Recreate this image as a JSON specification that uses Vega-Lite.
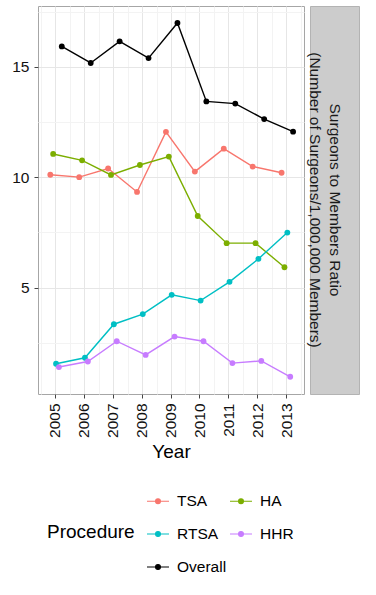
{
  "$schema": "https://vega.github.io/schema/vega-lite/v6.json",
  "padding": {"left": 11, "top": 5, "right": 0, "bottom": 0},
  "background": "white",
  "spacing": 0,
  "config": {
    "font": "Liberation Sans",
    "view": {"stroke": null},
    "concat": {"spacing": 0}
  },
  "datasets": {
    "ratios": [
      {"Year": "2005", "Procedure": "TSA", "Ratio": 10.11},
      {"Year": "2006", "Procedure": "TSA", "Ratio": 10.0},
      {"Year": "2007", "Procedure": "TSA", "Ratio": 10.39},
      {"Year": "2008", "Procedure": "TSA", "Ratio": 9.33},
      {"Year": "2009", "Procedure": "TSA", "Ratio": 12.05},
      {"Year": "2010", "Procedure": "TSA", "Ratio": 10.25},
      {"Year": "2011", "Procedure": "TSA", "Ratio": 11.29},
      {"Year": "2012", "Procedure": "TSA", "Ratio": 10.48},
      {"Year": "2013", "Procedure": "TSA", "Ratio": 10.2},
      {"Year": "2005", "Procedure": "HA", "Ratio": 11.05},
      {"Year": "2006", "Procedure": "HA", "Ratio": 10.76},
      {"Year": "2007", "Procedure": "HA", "Ratio": 10.1},
      {"Year": "2008", "Procedure": "HA", "Ratio": 10.55},
      {"Year": "2009", "Procedure": "HA", "Ratio": 10.93},
      {"Year": "2010", "Procedure": "HA", "Ratio": 8.24},
      {"Year": "2011", "Procedure": "HA", "Ratio": 7.01},
      {"Year": "2012", "Procedure": "HA", "Ratio": 7.01},
      {"Year": "2013", "Procedure": "HA", "Ratio": 5.92},
      {"Year": "2005", "Procedure": "RTSA", "Ratio": 1.55},
      {"Year": "2006", "Procedure": "RTSA", "Ratio": 1.82},
      {"Year": "2007", "Procedure": "RTSA", "Ratio": 3.34},
      {"Year": "2008", "Procedure": "RTSA", "Ratio": 3.8},
      {"Year": "2009", "Procedure": "RTSA", "Ratio": 4.67},
      {"Year": "2010", "Procedure": "RTSA", "Ratio": 4.41},
      {"Year": "2011", "Procedure": "RTSA", "Ratio": 5.26},
      {"Year": "2012", "Procedure": "RTSA", "Ratio": 6.3},
      {"Year": "2013", "Procedure": "RTSA", "Ratio": 7.49},
      {"Year": "2005", "Procedure": "HHR", "Ratio": 1.4},
      {"Year": "2006", "Procedure": "HHR", "Ratio": 1.65},
      {"Year": "2007", "Procedure": "HHR", "Ratio": 2.57},
      {"Year": "2008", "Procedure": "HHR", "Ratio": 1.95},
      {"Year": "2009", "Procedure": "HHR", "Ratio": 2.78},
      {"Year": "2010", "Procedure": "HHR", "Ratio": 2.57},
      {"Year": "2011", "Procedure": "HHR", "Ratio": 1.58},
      {"Year": "2012", "Procedure": "HHR", "Ratio": 1.68},
      {"Year": "2013", "Procedure": "HHR", "Ratio": 0.96},
      {"Year": "2005", "Procedure": "Overall", "Ratio": 15.92},
      {"Year": "2006", "Procedure": "Overall", "Ratio": 15.17},
      {"Year": "2007", "Procedure": "Overall", "Ratio": 16.15},
      {"Year": "2008", "Procedure": "Overall", "Ratio": 15.39},
      {"Year": "2009", "Procedure": "Overall", "Ratio": 16.98},
      {"Year": "2010", "Procedure": "Overall", "Ratio": 13.43},
      {"Year": "2011", "Procedure": "Overall", "Ratio": 13.33},
      {"Year": "2012", "Procedure": "Overall", "Ratio": 12.63},
      {"Year": "2013", "Procedure": "Overall", "Ratio": 12.06}
    ],
    "strip": [
      {"label": "Surgeons to Members Ratio\n(Number of Surgeons/1,000,000 Members)"}
    ]
  },
  "hconcat": [
    {
      "width": 266,
      "height": 388,
      "data": {"name": "ratios"},
      "view": {"stroke": "#A6A6A6", "strokeWidth": 1, "fill": "white"},
      "layer": [
        {
          "mark": {"type": "point", "opacity": 0},
          "encoding": {
            "x": {
              "field": "Year", "type": "ordinal",
              "scale": {"type": "band", "paddingInner": 0, "paddingOuter": 0.1},
              "axis": {"orient": "bottom", "labels": false, "ticks": false, "domain": false, "title": null,
                       "grid": true, "tickBand": "extent", "gridColor": "#F3F3F3", "gridWidth": 1,
                       "minExtent": 0, "maxExtent": 0, "offset": 0}
            }
          }
        },
        {
          "encoding": {
            "x": {
              "field": "Year", "type": "ordinal",
              "axis": {"orient": "bottom", "title": "Year", "labelAngle": 270, "labelAlign": "right",
                       "labelBaseline": "middle", "labelFontSize": 15.5, "labelColor": "#111111",
                       "labelPadding": 5, "tickSize": 4, "tickColor": "#444444", "domain": false,
                       "grid": true, "gridColor": "#E6E6E6", "titleFontSize": 19, "titleFontWeight": "normal",
                       "titleColor": "#000000", "titlePadding": 5}
            },
            "xOffset": {
              "field": "Procedure", "type": "nominal",
              "scale": {"domain": ["TSA", "HA", "RTSA", "HHR", "Overall"], "range": [9.4, 20.9],
                        "paddingInner": 0, "paddingOuter": 0}
            },
            "y": {
              "field": "Ratio", "type": "quantitative",
              "scale": {"domain": [0.18, 17.75], "nice": false, "zero": false},
              "axis": {"orient": "left", "values": [2.5, 5, 7.5, 10, 12.5, 15, 17.5], "title": null,
                       "labelExpr": "datum.value % 5 === 0 ? datum.label : ''",
                       "labelFontSize": 15.5, "labelColor": "#111111", "tickSize": 4,
                       "tickColor": "#444444",
                       "tickOpacity": {"condition": {"test": "datum.value % 5 === 0", "value": 1}, "value": 0},
                       "domain": false, "grid": true,
                       "gridColor": {"condition": {"test": "datum.value % 5 === 0", "value": "#E6E6E6"}, "value": "#F3F3F3"},
                       "labelPadding": 5}
            },
            "color": {
              "field": "Procedure", "type": "nominal",
              "scale": {"domain": ["TSA", "HA", "RTSA", "HHR", "Overall"],
                        "range": ["#F8766D", "#7CAE00", "#00BFC4", "#C77CFF", "#000000"]},
              "legend": {
                "title": "Procedure", "orient": "none", "legendX": 9, "legendY": 483,
                "direction": "horizontal", "columns": 2, "titleOrient": "left", "titleFontSize": 19,
                "titleFontWeight": "normal", "titleColor": "#000000", "titleBaseline": "middle",
                "titleAnchor": "middle", "titlePadding": 11,
                "labelFontSize": 15.5, "labelColor": "#000000", "labelOffset": 7,
                "symbolType": "M-1,0L1,0M-0.22,0A0.22,0.22,0,1,1,0.22,0A0.22,0.22,0,1,1,-0.22,0Z",
                "symbolSize": 484, "symbolStrokeWidth": 1.2, "columnPadding": 0, "rowPadding": 12
              }
            }
          },
          "layer": [
            {"mark": {"type": "line", "strokeWidth": 1.4}},
            {"mark": {"type": "point", "filled": true, "opacity": 1, "size": 34}}
          ]
        }
      ],
      "resolve": {"axis": {"x": "independent"}}
    },
    {
      "width": 49,
      "height": 388,
      "data": {"name": "strip"},
      "view": {"fill": "#CCCCCC", "stroke": "#B3B3B3"},
      "mark": {"type": "text", "angle": 90, "fontSize": 15.5, "lineBreak": "\n", "lineHeight": 20,
               "align": "center", "baseline": "middle", "color": "#1A1A1A"},
      "encoding": {"text": {"field": "label"}}
    }
  ]
}
